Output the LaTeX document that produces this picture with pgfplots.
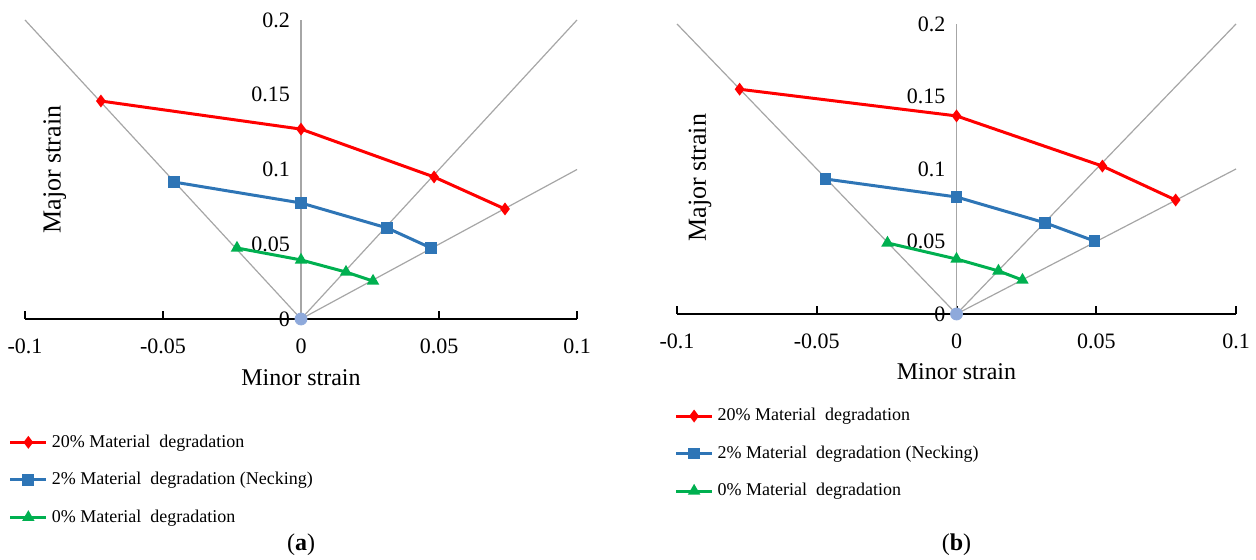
\documentclass[border=0pt]{standalone}
\usepackage{fontspec}
\setmainfont{Liberation Serif}
\usepackage{pgfplots}
\pgfplotsset{compat=1.18}

\definecolor{cRed}{HTML}{FF0000}
\definecolor{cBlue}{HTML}{2E75B6}
\definecolor{cGreen}{HTML}{00B050}
\definecolor{cGrid}{HTML}{A6A6A6}
\definecolor{cDot}{HTML}{8EA9DB}

\pgfplotsset{
  flc/.style={
    scale only axis,
    xmin=-0.1, xmax=0.1, ymin=0, ymax=0.2,
    clip=false,
    axis x line*=bottom,
    axis y line*=center,
    hide obscured x ticks=false,
    hide obscured y ticks=false,
    x axis line style={black, line width=1pt},
    y axis line style={cGrid, line width=0.7pt},
    xtick={-0.1,-0.05,0,0.05,0.1},
    xticklabels={-0.1,-0.05,0,0.05,0.1},
    ytick={0,0.05,0.1,0.15,0.2},
    yticklabels={0,0.05,0.1,0.15,0.2},
    tick align=inside,
    major tick length=4pt,
    xtick style={black, line width=1pt},
    ytick style={draw=none},
    xticklabel style={font=\fontsize{11}{13}\selectfont, yshift=-6.5pt},
    yticklabel style={font=\fontsize{11}{13}\selectfont, anchor=east, xshift=-2pt},
    xlabel style={font=\fontsize{12}{14}\selectfont},
    ylabel style={font=\fontsize{13}{15}\selectfont},
    xlabel={Minor strain},
    ylabel={Major strain},
    legend cell align=left,
    legend style={draw=none, fill=none, inner sep=0pt,
      font=\fontsize{9}{11}\selectfont,
      row sep=7pt, anchor=north west},
    legend image code/.code={\draw[mark repeat=2,mark phase=2,#1]
      plot coordinates {(0pt,0pt) (9pt,0pt) (18pt,0pt)};},
  },
  ref/.style={cGrid, line width=0.6pt, forget plot},
  sRed/.style={cRed, line width=1.5pt, mark=diamond*, mark size=2pt, mark options={solid}},
  sBlue/.style={cBlue, line width=1.5pt, mark=square*, mark size=2.2pt},
  sGreen/.style={cGreen, line width=1.5pt, mark=triangle*, mark size=2.1pt},
}

\begin{document}
\begin{tikzpicture}
\useasboundingbox (0,0) rectangle (628pt,280pt);

% (a)
\begin{axis}[flc,
  at={(12.5pt,120.5pt)}, anchor=south west,
  width=276pt, height=149.5pt,
  xlabel style={at={(axis description cs:0.5,-0.197)}, anchor=center},
  ylabel style={at={(axis description cs:0.054,0.5)}, anchor=center},
  legend style={at={(axis description cs:-0.03,-0.372)}},
]
\addplot[ref] coordinates {(0,0) (-0.1,0.2)};
\addplot[ref] coordinates {(0,0) (0.1,0.2)};
\addplot[ref] coordinates {(0,0) (0.1,0.1)};
\addplot[sRed] coordinates {(-0.0725,0.1458) (0,0.127) (0.0482,0.095) (0.0739,0.0736)};
\addlegendentry{20\% Material\ \ degradation}
\addplot[sBlue] coordinates {(-0.046,0.0916) (0,0.0776) (0.0312,0.0609) (0.0471,0.0475)};
\addlegendentry{2\% Material\ \ degradation (Necking)}
\addplot[sGreen] coordinates {(-0.0232,0.0475) (0,0.0395) (0.0163,0.0314) (0.0261,0.0254)};
\addlegendentry{0\% Material\ \ degradation}
\addplot[only marks, mark=*, mark size=3pt, cDot, forget plot] coordinates {(0,0)};
\node[font=\fontsize{12}{14}\selectfont] at (axis description cs:0.5,-0.755) {(\textbf{a})};
\end{axis}

% (b)
\begin{axis}[flc,
  at={(338.5pt,123pt)}, anchor=south west,
  width=279.5pt, height=145pt,
  xlabel style={at={(axis description cs:0.5,-0.2)}, anchor=center},
  ylabel style={at={(axis description cs:0.041,0.47)}, anchor=center},
  legend style={at={(axis description cs:-0.005,-0.31)}},
]
\addplot[ref] coordinates {(0,0) (-0.1,0.2)};
\addplot[ref] coordinates {(0,0) (0.1,0.2)};
\addplot[ref] coordinates {(0,0) (0.1,0.1)};
\addplot[sRed] coordinates {(-0.0776,0.155) (0,0.1366) (0.0522,0.102) (0.0784,0.0786)};
\addlegendentry{20\% Material\ \ degradation}
\addplot[sBlue] coordinates {(-0.0469,0.0931) (0,0.0807) (0.0318,0.0628) (0.0494,0.0503)};
\addlegendentry{2\% Material\ \ degradation (Necking)}
\addplot[sGreen] coordinates {(-0.0247,0.049) (0,0.0379) (0.015,0.0297) (0.0236,0.0234)};
\addlegendentry{0\% Material\ \ degradation}
\addplot[only marks, mark=*, mark size=3pt, cDot, forget plot] coordinates {(0,0)};
\node[font=\fontsize{12}{14}\selectfont] at (axis description cs:0.5,-0.795) {(\textbf{b})};
\end{axis}
\end{tikzpicture}
\end{document}
